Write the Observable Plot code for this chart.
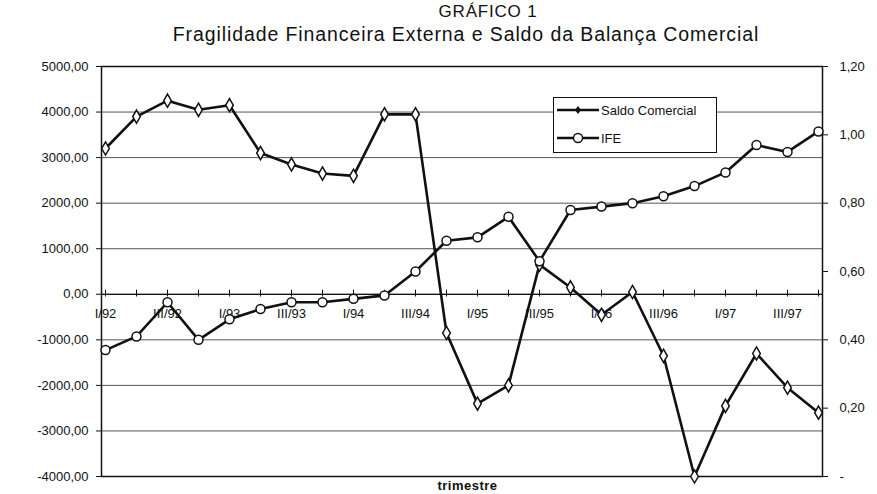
<!DOCTYPE html>
<html><head><meta charset="utf-8">
<script src="https://cdn.jsdelivr.net/npm/d3@7"></script>
<script src="https://cdn.jsdelivr.net/npm/@observablehq/plot@0.6"></script>
<style>
body{margin:0;background:#fff;font-family:"Liberation Sans",Arial,sans-serif;color:#111;}
#wrap{position:relative;width:877px;height:494px;overflow:hidden;background:#fff;}
#t1{position:absolute;left:0;width:976px;top:2px;text-align:center;font-size:17px;letter-spacing:0.8px;}
#t2{position:absolute;left:0;width:932px;top:23px;text-align:center;font-size:19.5px;letter-spacing:0.9px;}
#chart{position:absolute;left:0;top:50px;}
#legend{position:absolute;left:553px;top:97px;width:162px;height:54px;border:1.5px solid #111;background:#fff;font-size:13px;}
#legend .row{position:absolute;left:3px;height:16px;display:flex;align-items:center;}
#legend svg{margin-right:2px;}
#xt{position:absolute;left:0;width:935px;top:478px;text-align:center;font-size:13px;font-weight:bold;letter-spacing:0.5px;}
</style></head><body>
<div id="wrap">
  <div id="t1">GRÁFICO 1</div>
  <div id="t2">Fragilidade Financeira Externa e Saldo da Balança Comercial</div>
  <div id="chart"></div>
  <div id="legend">
    <div class="row" style="top:4px"><svg width="42" height="12"><line x1="0" y1="6" x2="42" y2="6" stroke="#111" stroke-width="2.5"/><path d="M21,2 L24,6 L21,10 L18,6 Z" fill="#111"/></svg><span>Saldo Comercial</span></div>
    <div class="row" style="top:32px"><svg width="42" height="12"><line x1="0" y1="6" x2="42" y2="6" stroke="#111" stroke-width="2.5"/><circle cx="21" cy="6" r="4.5" fill="#fff" stroke="#111" stroke-width="1.5"/></svg><span>IFE</span></div>
  </div>
  <div id="xt">trimestre</div>
</div>
<script>
const quarters = ["I/92","II/92","III/92","IV/92","I/93","II/93","III/93","IV/93","I/94","II/94","III/94","IV/94",
                  "I/95","II/95","III/95","IV/95","I/96","II/96","III/96","IV/96","I/97","II/97","III/97","IV/97"];
const saldoComercial = [3200, 3900, 4250, 4050, 4150, 3100, 2850, 2650, 2600, 3950, 3950, -850,
                        -2400, -2000, 650, 150, -450, 50, -1350, -4000, -2450, -1300, -2050, -2600];
const ife = [0.37, 0.41, 0.51, 0.40, 0.46, 0.49, 0.51, 0.51, 0.52, 0.53, 0.60, 0.69,
             0.70, 0.76, 0.63, 0.78, 0.79, 0.80, 0.82, 0.85, 0.89, 0.97, 0.95, 1.01];
const leftTicks = [-4000, -3000, -2000, -1000, 0, 1000, 2000, 3000, 4000, 5000];
const rightTicks = [0, 0.2, 0.4, 0.6, 0.8, 1.0, 1.2];
const xLabels = ["I/92","III/92","I/93","III/93","I/94","III/94","I/95","III/95","I/96","III/96","I/97","III/97"];

const leftMin = -4000, leftMax = 5000, rightMax = 1.2;
const toLeft = v => leftMin + v / rightMax * (leftMax - leftMin);
const fmt2 = v => v.toFixed(2).replace(".", ",");

const data = quarters.map((q, i) => ({q, saldo: saldoComercial[i], ife: ife[i]}));

const chart = Plot.plot({
  width: 877,
  height: 444,
  marginLeft: 101,
  marginRight: 55,
  marginTop: 16,
  marginBottom: 18,
  style: {fontFamily: "'Liberation Sans', Arial, sans-serif", fontSize: "13px", color: "#111", background: "transparent", overflow: "visible"},
  x: {type: "point", domain: quarters, padding: 0, axis: null},
  y: {domain: [leftMin, leftMax], axis: null},
  marks: [
    Plot.ruleY(leftTicks.slice(1, -1), {stroke: "#555", strokeWidth: 1}),
    Plot.frame({stroke: "#111", strokeWidth: 1.5}),
    Plot.axisY(leftTicks, {anchor: "left", tickSize: 5, tickPadding: 8, tickFormat: fmt2, label: null, fontSize: 13}),
    Plot.axisY(rightTicks.map(toLeft), {anchor: "right", tickSize: 5, tickPadding: 12, label: null, fontSize: 13,
      tickFormat: d => { const v = Math.round((d - leftMin) / (leftMax - leftMin) * rightMax * 100) / 100; return v === 0 ? "-" : fmt2(v); }}),
    Plot.ruleY([0], {stroke: "#111", strokeWidth: 1.2}),
    Plot.ruleX(quarters, {x: d => d, y1: -60, y2: 90, stroke: "#111", strokeWidth: 1}),
    Plot.text(xLabels, {x: d => d, y: 0, dy: 20, fontSize: 13, fill: "#111"}),
    Plot.line(data, {x: "q", y: "saldo", stroke: "#111", strokeWidth: 2.6}),
    Plot.line(data, {x: "q", y: d => toLeft(d.ife), stroke: "#111", strokeWidth: 2.6}),
    Plot.dot(data, {x: "q", y: "saldo", symbol: "diamond", r: 4, fill: "#fff", stroke: "#111", strokeWidth: 1.5}),
    Plot.dot(data, {x: "q", y: d => toLeft(d.ife), symbol: "circle", r: 4.5, fill: "#fff", stroke: "#111", strokeWidth: 1.5})
  ]
});
document.getElementById("chart").appendChild(chart);
</script>
</body></html>
